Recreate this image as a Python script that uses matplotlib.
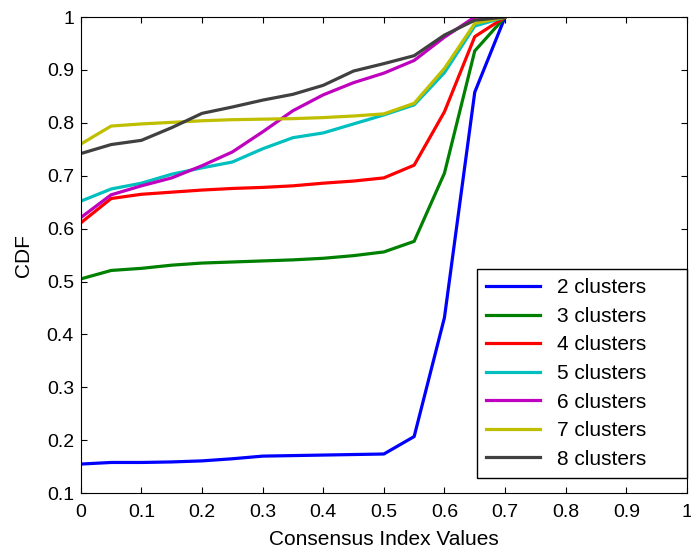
import matplotlib.pyplot as plt

plt.rcParams['font.family'] = ['Liberation Sans', 'DejaVu Sans']

x = [0, 0.05, 0.1, 0.15, 0.2, 0.25, 0.3, 0.35, 0.4, 0.45, 0.5, 0.55, 0.6, 0.65, 0.7]

c2 = [0.155, 0.158, 0.158, 0.159, 0.161, 0.165, 0.170, 0.171, 0.172, 0.173, 0.174, 0.207, 0.432, 0.858, 1.0]
c3 = [0.505, 0.521, 0.525, 0.531, 0.535, 0.537, 0.539, 0.541, 0.544, 0.549, 0.556, 0.576, 0.705, 0.936, 1.0]
c4 = [0.611, 0.657, 0.665, 0.669, 0.673, 0.676, 0.678, 0.681, 0.686, 0.690, 0.696, 0.720, 0.821, 0.963, 1.0]
c5 = [0.652, 0.675, 0.686, 0.703, 0.715, 0.726, 0.751, 0.772, 0.781, 0.798, 0.815, 0.834, 0.895, 0.983, 1.0]
c6 = [0.621, 0.664, 0.681, 0.696, 0.719, 0.745, 0.783, 0.823, 0.853, 0.876, 0.894, 0.918, 0.962, 1.0, 1.0]
c7 = [0.760, 0.794, 0.798, 0.801, 0.804, 0.806, 0.807, 0.808, 0.810, 0.813, 0.817, 0.837, 0.903, 0.988, 1.0]
c8 = [0.742, 0.759, 0.767, 0.791, 0.818, 0.830, 0.843, 0.854, 0.871, 0.898, 0.912, 0.927, 0.966, 0.994, 1.0]

series = [c2, c3, c4, c5, c6, c7, c8]
labels = ["2 clusters", "3 clusters", "4 clusters", "5 clusters",
          "6 clusters", "7 clusters", "8 clusters"]
colors = ["#0000ff", "#008000", "#ff0000", "#00bfbf", "#bf00bf", "#bfbf00", "#404040"]

fig = plt.figure(figsize=(6.91, 5.51), dpi=100)
ax = fig.add_axes([0.117, 0.105, 0.877, 0.864])

for y, lab, col in zip(series, labels, colors):
    ax.plot(x, y, color=col, linewidth=2.3, label=lab)

ax.set_xlim(0, 1)
ax.set_ylim(0.1, 1)
ax.set_xticks([i / 10 for i in range(11)])
ax.set_xticklabels(["0", "0.1", "0.2", "0.3", "0.4", "0.5", "0.6", "0.7", "0.8", "0.9", "1"])
ax.set_yticks([i / 10 for i in range(1, 11)])
ax.set_yticklabels(["0.1", "0.2", "0.3", "0.4", "0.5", "0.6", "0.7", "0.8", "0.9", "1"])
ax.tick_params(direction='in', top=True, right=True, labelsize=14, length=4.5, pad=5)
ax.tick_params(axis='x', pad=8)
ax.set_xlabel("Consensus Index Values", fontsize=15, labelpad=6)
ax.set_ylabel("CDF", fontsize=15, labelpad=10)

# MATLAB-style legend box: wide, flush with the right spine
leg = ax.legend(loc='lower left', bbox_to_anchor=(0.653, 0.0315, 0.347, 0.4),
                mode='expand', fontsize=15,
                fancybox=False, framealpha=1, edgecolor='black',
                handlelength=2.6, handletextpad=0.8, borderpad=0.45,
                borderaxespad=0.0, labelspacing=0.46)
leg.get_frame().set_linewidth(1.0)

fig.savefig("out.png", dpi=100)
